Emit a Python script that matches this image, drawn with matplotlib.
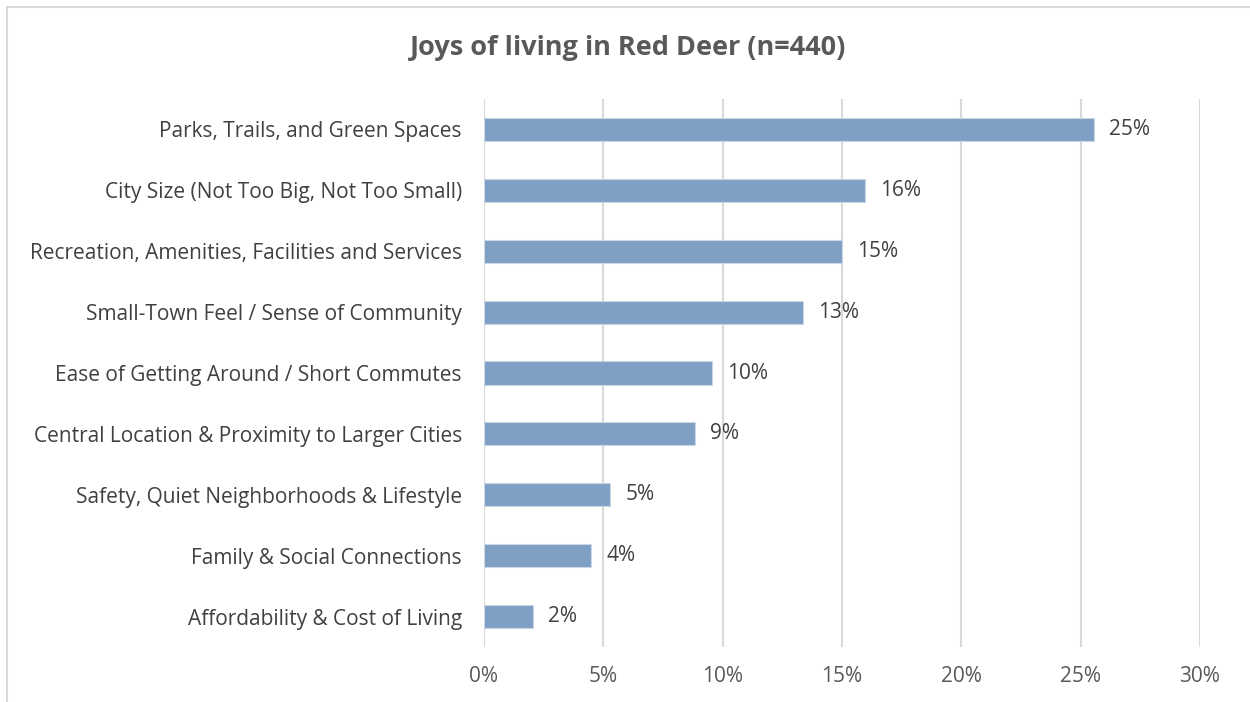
import matplotlib
matplotlib.use('Agg')
import matplotlib.pyplot as plt
from matplotlib.patches import Rectangle
from matplotlib.ticker import MultipleLocator, FuncFormatter

# data
categories = ['Parks, Trails, and Green Spaces',
              'City Size (Not Too Big, Not Too Small)',
              'Recreation, Amenities, Facilities and Services',
              'Small-Town Feel / Sense of Community',
              'Ease of Getting Around / Short Commutes',
              'Central Location & Proximity to Larger Cities',
              'Safety, Quiet Neighborhoods & Lifestyle',
              'Family & Social Connections',
              'Affordability & Cost of Living']
values = [25.55, 15.95, 15.0, 13.35, 9.55, 8.85, 5.3, 4.5, 2.05]
value_labels = ['25%', '16%', '15%', '13%', '10%', '9%', '5%', '4%', '2%']

plt.rcParams['font.family'] = ['Open Sans', 'DejaVu Sans']

fig = plt.figure(figsize=(12.5, 7.02), dpi=100)
ax = fig.add_axes([0.3872, 0.0783, 0.96 - 0.3872, 0.859 - 0.0783])

# chart frame (cut off on right and bottom)
fig.patches.append(Rectangle((0.0056, -0.1), 1.2, 1.0 - 0.0056 * 1250 / 702 + 0.1,
                             transform=fig.transFigure, fill=False,
                             edgecolor='#D9D9D9', linewidth=1.5))

ypos = list(range(len(categories)))
bars = ax.barh(ypos, values, height=0.38, color='#7F9FC4',
               edgecolor='#C9D6E6', linewidth=0.8, zorder=3)
ax.bar_label(bars, labels=value_labels, padding=11, fontsize=15, color='#404040')

ax.set_yticks(ypos)
ax.set_yticklabels(categories, fontsize=15, color='#404040')
ax.set_ylim(len(categories) - 0.5, -0.5)
ax.set_xlim(0, 30)
ax.xaxis.set_major_locator(MultipleLocator(5))
ax.xaxis.set_major_formatter(FuncFormatter(lambda v, p: '%d%%' % v))
ax.tick_params(axis='x', labelsize=15, colors='#595959', length=0, pad=14)
ax.tick_params(axis='y', length=0, pad=16)

ax.grid(axis='x', color='#D9D9D9', linewidth=1.5, zorder=0)
for s in ax.spines.values():
    s.set_visible(False)
ax.axvline(0, color='#D9D9D9', linewidth=1.5, zorder=1)

fig.text(0.5025, 1 - 48 / 702, 'Joys of living in Red Deer (n=440)', ha='center', va='center',
         fontsize=19.5, fontweight='bold', color='#595959')

fig.savefig('out.png', dpi=100)
